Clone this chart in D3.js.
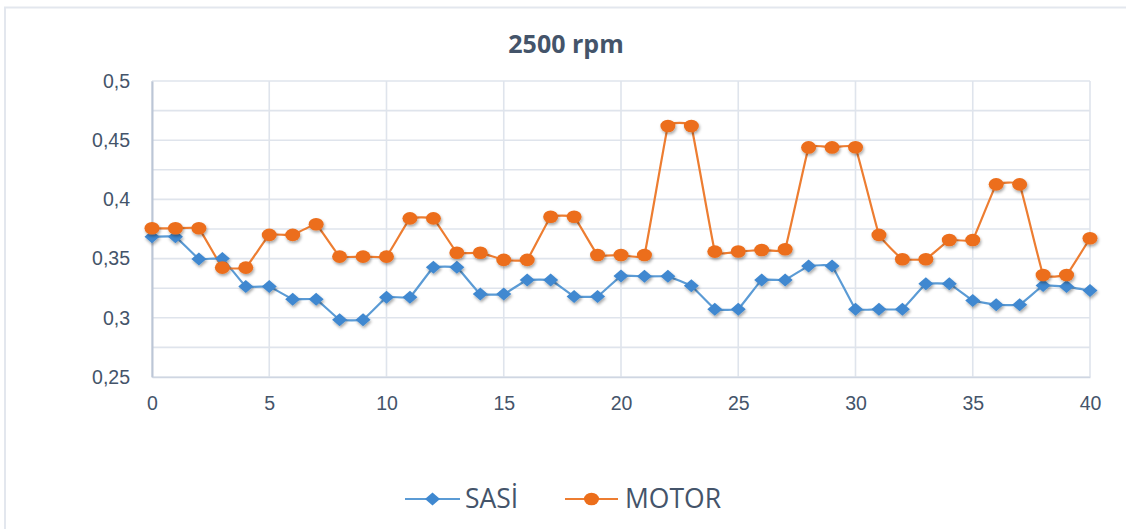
<!DOCTYPE html>
<html>
<head>
<meta charset="utf-8">
<script src="https://cdn.jsdelivr.net/npm/d3@7"></script>
<style>
  html, body { margin: 0; padding: 0; background: #ffffff; }
  svg { display: block; font-family: "Open Sans", "Noto Sans", sans-serif; }
</style>
</head>
<body>
<svg id="chart" width="1126" height="529"></svg>
<script>
// Measurement points (0..40) and the two vibration series
const xValues = d3.range(0, 41);
const sasi = [0.3685, 0.3685, 0.3497, 0.350, 0.3264, 0.3264, 0.3157, 0.3157, 0.2983, 0.2983,
              0.3174, 0.3174, 0.3427, 0.3427, 0.320, 0.320, 0.332, 0.332, 0.318, 0.318,
              0.3354, 0.335, 0.335, 0.327, 0.3073, 0.3073, 0.332, 0.332, 0.3438, 0.3438,
              0.3073, 0.3073, 0.3073, 0.3287, 0.3287, 0.3146, 0.311, 0.311, 0.3272, 0.3264,
              0.323];
const motor = [0.3756, 0.3756, 0.3756, 0.3424, 0.3424, 0.370, 0.370, 0.379, 0.3517, 0.3517,
               0.3517, 0.384, 0.384, 0.355, 0.355, 0.3489, 0.3489, 0.3854, 0.3854, 0.353,
               0.353, 0.353, 0.462, 0.462, 0.3559, 0.356, 0.3573, 0.3579, 0.4439, 0.4439,
               0.444, 0.370, 0.3495, 0.3495, 0.3657, 0.3657, 0.4127, 0.4127, 0.3362, 0.3362,
               0.3672];
const seriesNames = ["SASİ", "MOTOR"];
const xTicks = [0, 5, 10, 15, 20, 25, 30, 35, 40];
const yTicks = [0.25, 0.3, 0.35, 0.4, 0.45, 0.5];
const yGrid = d3.range(0, 11).map(i => 0.25 + i * 0.025);
const titleText = "2500 rpm";

const svg = d3.select("#chart");
const plot = { left: 152, right: 1090, top: 81, bottom: 377 };

const x = d3.scaleLinear().domain([0, 40]).range([plot.left, plot.right]);
const y = d3.scaleLinear().domain([0.25, 0.5]).range([plot.bottom, plot.top]);

const comma = d3.formatLocale({ decimal: ",", thousands: ".", grouping: [3], currency: ["", ""] });
const yFmt = comma.format("~g");

const textColor = "#44546a";
const gridColor = "#dfe4ec";
const blueLine = "#5b9bd5", blueMark = "#3f88d0";
const orangeLine = "#ed7d31", orangeMark = "#ec6e1b";

// Soft shadow under the markers
const defs = svg.append("defs");
const f = defs.append("filter").attr("id", "shadow")
  .attr("x", "-50%").attr("y", "-50%").attr("width", "200%").attr("height", "200%");
f.append("feDropShadow").attr("dx", 1).attr("dy", 2).attr("stdDeviation", 1.6)
  .attr("flood-color", "#000").attr("flood-opacity", 0.35);

// Chart-area frame (top and left edges visible)
svg.append("path")
  .attr("d", "M5,529 V7.5 H1126")
  .attr("fill", "none").attr("stroke", "#e3e7ee").attr("stroke-width", 2);

// Gridlines
const grid = svg.append("g");
grid.selectAll("line.h").data(yGrid).join("line")
  .attr("x1", plot.left).attr("x2", plot.right)
  .attr("y1", d => y(d)).attr("y2", d => y(d))
  .attr("stroke", gridColor).attr("stroke-width", 1.6);
grid.selectAll("line.v").data(xTicks).join("line")
  .attr("x1", d => x(d)).attr("x2", d => x(d))
  .attr("y1", plot.top).attr("y2", plot.bottom)
  .attr("stroke", gridColor).attr("stroke-width", 1.6);

// Axes
const yAxis = svg.append("g").attr("transform", `translate(${plot.left},0)`)
  .call(d3.axisLeft(y).tickValues(yTicks).tickFormat(yFmt).tickSize(0).tickPadding(22));
yAxis.select(".domain").attr("stroke", "#bcc6d6").attr("stroke-width", 2);
yAxis.selectAll("text").attr("fill", textColor).attr("font-size", 19.5);

const xAxis = svg.append("g").attr("transform", `translate(0,${plot.bottom})`)
  .call(d3.axisBottom(x).tickValues(xTicks).tickFormat(d3.format("d")).tickSize(0).tickPadding(19));
xAxis.select(".domain").attr("stroke", "#cfd6e2").attr("stroke-width", 1.6);
xAxis.selectAll("text").attr("fill", textColor).attr("font-size", 19.5);

// Title
svg.append("text")
  .attr("x", 566).attr("y", 53)
  .attr("text-anchor", "middle")
  .attr("font-size", 25).attr("font-weight", 700)
  .attr("fill", textColor)
  .text(titleText);

// Series lines (lightly smoothed)
const line = d3.line()
  .x((d, i) => x(xValues[i]))
  .y(d => y(d))
  .curve(d3.curveCardinal.tension(0.8));

svg.append("path").datum(sasi)
  .attr("d", line).attr("fill", "none")
  .attr("stroke", blueLine).attr("stroke-width", 2.2);
svg.append("path").datum(motor)
  .attr("d", line).attr("fill", "none")
  .attr("stroke", orangeLine).attr("stroke-width", 2.2);

// Markers
const diamond = (cx, cy) => `M${cx - 7.5},${cy} L${cx},${cy - 6.5} L${cx + 7.5},${cy} L${cx},${cy + 6.5} Z`;

svg.append("g").attr("filter", "url(#shadow)")
  .selectAll("path").data(sasi).join("path")
  .attr("d", (d, i) => diamond(x(xValues[i]), y(d)))
  .attr("fill", blueMark);

svg.append("g").attr("filter", "url(#shadow)")
  .selectAll("ellipse").data(motor).join("ellipse")
  .attr("cx", (d, i) => x(xValues[i])).attr("cy", d => y(d))
  .attr("rx", 7.5).attr("ry", 6.3)
  .attr("fill", orangeMark);

// Legend
const legend = [
  { name: seriesNames[0], x0: 405, x1: 460, tx: 465, line: blueLine, mark: blueMark, shape: "diamond" },
  { name: seriesNames[1], x0: 565, x1: 618, tx: 625, line: orangeLine, mark: orangeMark, shape: "circle" }
];
const ly = 499;
const lg = svg.append("g");
legend.forEach(l => {
  lg.append("line").attr("x1", l.x0).attr("x2", l.x1).attr("y1", ly).attr("y2", ly)
    .attr("stroke", l.line).attr("stroke-width", 2);
  const cx = (l.x0 + l.x1) / 2;
  if (l.shape === "diamond") {
    lg.append("path").attr("d", diamond(cx, ly)).attr("fill", l.mark);
  } else {
    lg.append("ellipse").attr("cx", cx).attr("cy", ly).attr("rx", 7.5).attr("ry", 6.3).attr("fill", l.mark);
  }
  lg.append("text").attr("x", l.tx).attr("y", ly + 9)
    .attr("font-size", 26.5).attr("fill", textColor).text(l.name);
});
</script>
</body>
</html>
